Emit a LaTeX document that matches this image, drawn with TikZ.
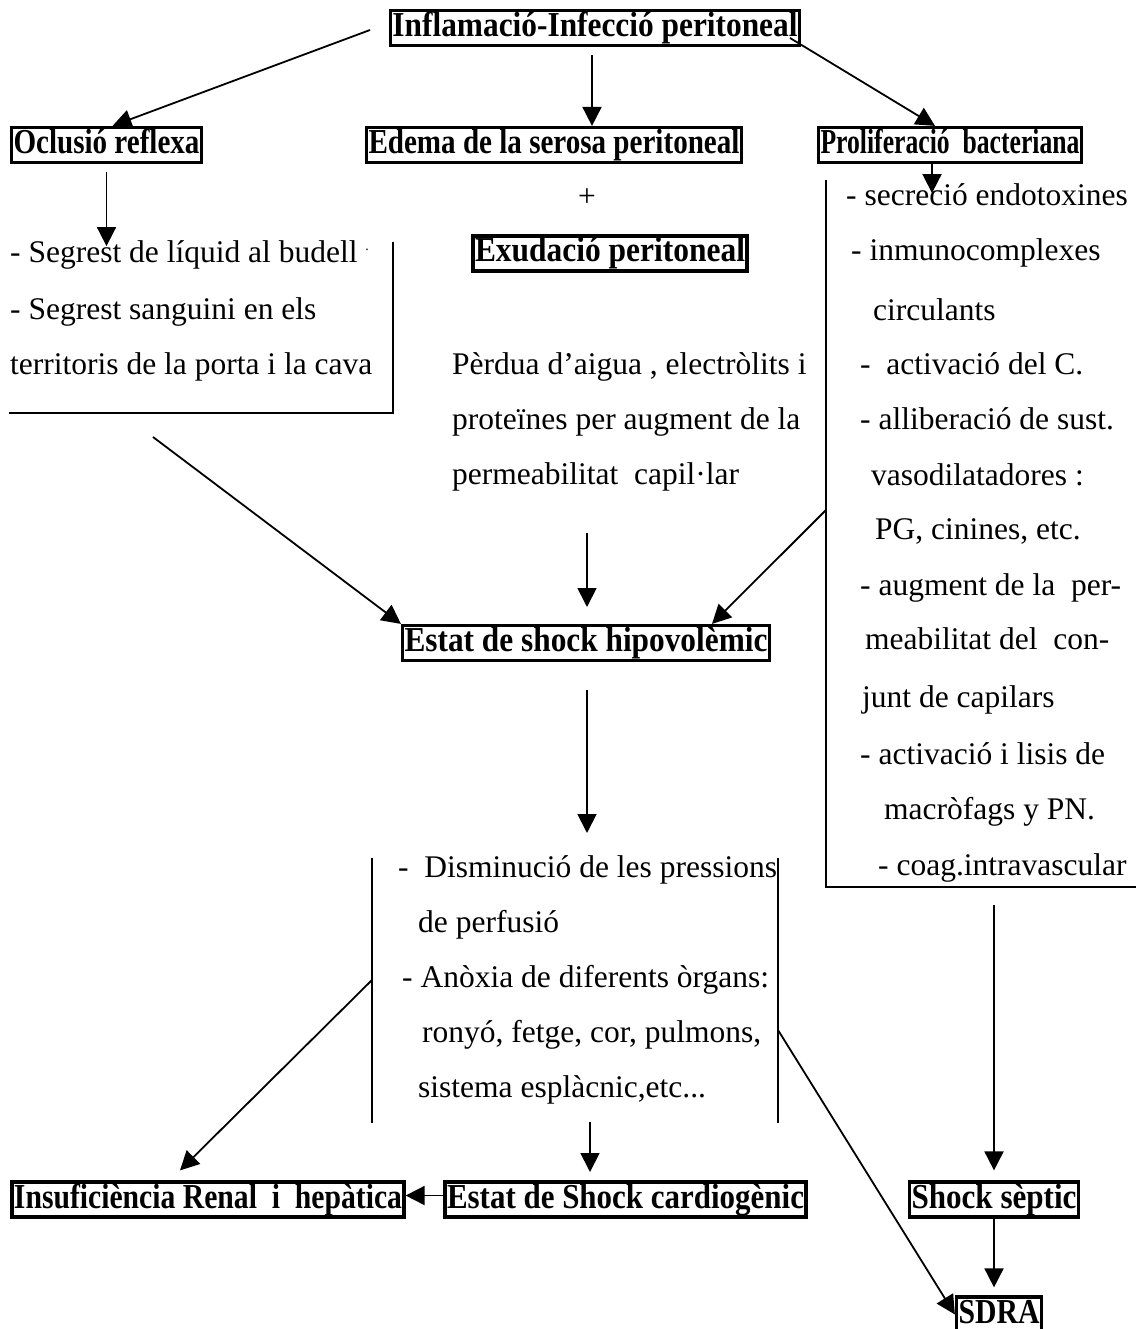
\documentclass[tikz,border=0pt]{standalone}
\usepackage{fontspec}
\setmainfont{Liberation Serif}
\usepackage{graphicx}
\usetikzlibrary{arrows.meta}
\newcommand{\bxt}[2]{\resizebox{#1}{\height}{\fontsize{35}{40}\selectfont\bfseries #2}}
\begin{document}
\begin{tikzpicture}[x=1pt,y=-1pt,
  every node/.style={font=\fontsize{31.5}{37}\selectfont},
  box/.style={draw, line width=3.2pt, inner xsep=2pt, inner ysep=1.5pt, text height=24.5pt, text depth=7.5pt},
  txt/.style={anchor=west, inner sep=0pt, text height=22pt, text depth=7pt},
  arr/.style={line width=1.8pt, -{Triangle[length=19pt,width=19pt]}},
  ln/.style={line width=1.8pt}]
\useasboundingbox[fill=white] (0,0) rectangle (1135,1329);

% boxes
\node[box] (infl) at (595,28) {\bxt{405pt}{Inflamació-Infecció peritoneal}};
\node[box] (ocl) at (106.5,145) {\bxt{186pt}{Oclusió reflexa}};
\node[box] (edema) at (554,145) {\bxt{371pt}{Edema de la serosa peritoneal}};
\node[box] (prol) at (950,145) {\bxt{259pt}{Proliferació\ \ bacteriana}};
\node (plus) at (587,198) {+};
\node[box] (exud) at (610,253.5) {\bxt{270pt}{Exudació peritoneal}\hspace{8pt}};
\node[box] (hipo) at (586,643) {\bxt{363pt}{Estat de shock hipovolèmic}\hspace{12pt}};
\node[box] (insuf) at (208,1199.5) {\bxt{388pt}{Insuficiència Renal\ \ i\ \ hepàtica}};
\node[box] (cardio) at (625.5,1199.5) {\bxt{357pt}{Estat de Shock cardiogènic}};
\node[box] (septic) at (994,1199.5) {\bxt{165pt}{Shock sèptic}};
\node[box] (sdra) at (999,1314.5) {\bxt{81pt}{SDRA}};

% left text block
\node[txt] (l1) at (10,255) {- Segrest de líquid al budell \raisebox{12pt}{\fontsize{14}{14}\selectfont .}};
\node[txt] (l2) at (10,312) {- Segrest sanguini en els};
\node[txt] (l3) at (10,367) {territoris de la porta i la cava};
\draw[ln] (393,242) -- (393,413) -- (9,413);

% middle text block
\node[txt] (p1) at (452,367) {Pèrdua d’aigua , electròlits i};
\node[txt] (p2) at (452,422) {proteïnes per augment de la};
\node[txt] (p3) at (452,477) {permeabilitat\ \ capil·lar};

% right text block
\node[txt] (r1) at (846,198) {- secreció endotoxines};
\node[txt] (r2) at (851,253) {- inmunocomplexes};
\node[txt] (r3) at (873,313) {circulants};
\node[txt] (r4) at (860,367) {-\ \ activació del C.};
\node[txt] (r5) at (860,422) {- alliberació de sust.};
\node[txt] (r6) at (871,478) {vasodilatadores :};
\node[txt] (r7) at (875,532) {PG, cinines, etc.};
\node[txt] (r8) at (860,588) {- augment de la\ \ per-};
\node[txt] (r9) at (865,642) {meabilitat del\ \ con-};
\node[txt] (r10) at (862,700) {junt de capilars};
\node[txt] (r11) at (860,757) {- activació i lisis de};
\node[txt] (r12) at (884,812) {macròfags y PN.};
\node[txt] (r13) at (878,868) {- coag.intravascular};
\draw[ln] (826,180) -- (826,887) -- (1136,887);

% lower middle block
\node[txt] (m1) at (398,870) {-\ \ Disminució de les pressions};
\node[txt] (m2) at (418,925) {de perfusió};
\node[txt] (m3) at (402,980) {- Anòxia de diferents òrgans:};
\node[txt] (m4) at (422,1035) {ronyó, fetge, cor, pulmons,};
\node[txt] (m5) at (418,1090) {sistema esplàcnic,etc...};
\draw[ln] (372,858) -- (372,1123);
\draw[ln] (778,858) -- (778,1123);

% connectors
\coordinate (a1s) at (370,30);
\draw[arr] (a1s) -- ([xshift=6pt]ocl.north);
\coordinate (a2s) at (592,55);
\draw[arr] (a2s) -- (a2s |- edema.north);
\coordinate (a3s) at (790,38);
\draw[arr] (a3s) -- ([xshift=-15pt]prol.north);
\draw[arr] ([xshift=-18pt]prol.south) -- ++(0,29);
\draw[arr] ([yshift=-8pt]ocl.south) -- ++(0,74);
\coordinate (a6s) at (153,437);
\draw[arr] (a6s) -- (hipo.north west);
\coordinate (a7s) at (587,533);
\draw[arr] (a7s) -- ++(0,74);
\coordinate (a8s) at (826,510);
\draw[arr] (a8s) -- ([xshift=126pt]hipo.north);
\coordinate (a9s) at (587,690);
\draw[arr] (a9s) -- ++(0,143);
\coordinate (a10s) at (994,905);
\draw[arr] (a10s) -- ([yshift=10pt]septic.north);
\coordinate (a11s) at (372,980);
\draw[arr] (a11s) -- ([xshift=-28pt,yshift=10pt]insuf.north);
\coordinate (a12s) at (590,1122);
\draw[arr] (a12s) -- ++(0,50);
\draw[arr] ([yshift=4pt]cardio.west) -- ([yshift=4pt]insuf.east);
\coordinate (sdtop) at (septic.south |- sdra.north);
\draw[arr] (septic.south) -- ([yshift=8pt]sdtop);
\coordinate (a15s) at (778,1030);
\draw[arr] (a15s) -- (sdra.west);
\end{tikzpicture}
\end{document}
